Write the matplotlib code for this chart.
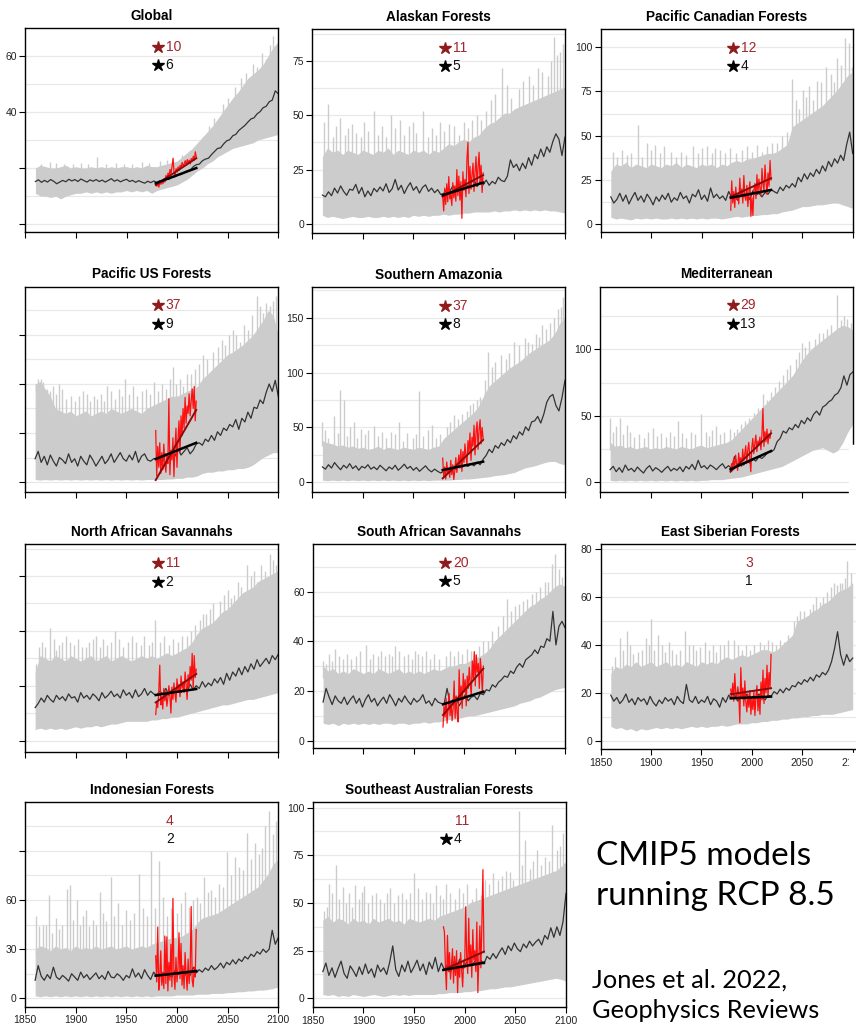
import numpy as np
import matplotlib.pyplot as plt
from matplotlib.patches import Rectangle

plt.rcParams['font.family'] = ['Liberation Sans', 'DejaVu Sans']

band_years = np.arange(1860, 2101, 5)
mean_years = np.arange(1860, 2101, 3)
obs_years = np.arange(1979, 2020)
trend_years = [1979, 2019]

# ---------------- Global
glob_lo = [11, 10, 10, 9.5, 10, 9, 10, 10.5, 11, 11, 11.5, 11, 11.5, 11, 11.5, 11, 11.5, 11.5, 12, 11.5, 12, 11.5, 12, 11, 12,
           12.5, 13, 13.5, 14, 15, 16, 17.5, 19, 20, 21.5, 22.5, 24, 25, 26, 27, 27.5, 28, 28.5, 29, 30, 30.5, 31, 31.5, 32]
glob_hi = [20, 21, 20.5, 20, 20, 20.5, 21, 20, 20.5, 20, 20, 20.5, 20, 20.5, 20, 20.5, 20, 20.5, 20.5, 20, 20.5, 20, 21, 20.5,
           20.5, 21, 21.5, 22, 22.5, 24, 25.5, 27, 29, 31, 33, 35, 37.5, 40, 42.5, 45, 47, 49.5, 52, 53.5, 55, 57, 60, 63, 65]
glob_spk_yr = [1874, 1921, 1965, 1983, 2036, 2057, 2068, 2079, 2088, 2095, 2098,
               1866, 1880, 1888, 1897, 1905, 1912, 1930, 1940, 1948, 1955, 1972, 1990, 2005, 2012, 2026, 2032, 2045,
               2050, 2063, 2075, 2084, 2092]
glob_spk_hi = [22, 24, 22, 22.5, 38, 49, 54, 56, 59, 67, 64,
               21.5, 21.8, 21.5, 21.5, 21.8, 21.5, 21.5, 21.8, 21.5, 21.5, 21.8, 23, 24.5, 26, 31, 35, 43,
               45, 52, 57, 61, 64]
glob_mean = [15.2, 15.8, 14.9, 15.6, 15.0, 15.9, 15.3, 14.4, 15.0, 15.6,
             15.1, 16.0, 15.4, 15.9, 15.2, 16.1, 15.5, 15.0, 15.8, 15.3,
             15.9, 15.2, 15.7, 15.0, 15.6, 16.2, 15.3, 15.8, 15.1, 15.6,
             16.0, 15.2, 15.6, 14.9, 15.5, 15.0, 14.6, 15.3, 14.8, 15.4,
             14.8, 15.5, 15.3, 16.1, 16.0, 16.8, 16.9, 17.6, 17.7, 18.3,
             19.0, 19.3, 20.5, 21.2, 21.4, 22.6, 23.2, 23.5, 24.8, 25.9,
             27.0, 27.2, 28.6, 29.7, 30.1, 31.5, 32.0, 33.4, 34.3, 35.2,
             36.4, 37.5, 37.9, 39.3, 40.1, 41.5, 42.0, 43.6, 44.2, 47.5, 46.5]
glob_obs = [14.0, 13.5, 14.8, 13.2, 15.0, 14.2, 15.6, 14.4, 16.2, 15.0, 17.4, 16.0, 18.2, 17.0, 19.5, 18.0, 20.5, 23.5, 18.5,
            17.2, 19.8, 18.6, 20.4, 19.2, 21.0, 20.2, 22.0, 20.8, 21.4, 22.6, 21.2, 23.0, 21.8, 22.8, 21.5, 23.4, 22.6, 24.2,
            22.8, 25.8, 23.8]
glob_tr_obs = [14.0, 23.5]
glob_tr_mod = [14.6, 20.0]

# ---------------- Alaskan Forests
ak_lo = [4, 3, 3.5, 3, 2.5, 3, 3.5, 3, 3, 3.5, 3, 3, 3.5, 3, 3.5, 3, 3.5, 3, 4, 3.5, 4, 3.5, 4, 4, 4.5, 4, 4.5, 4.5, 5, 5,
         5.5, 5.5, 5.5, 5.5, 6, 5.5, 6, 6, 6.5, 6, 6.5, 6, 6.5, 6, 6.5, 6, 6, 5.5, 5]
ak_hi = [31, 35, 33, 34, 32, 34, 33, 32, 34, 33, 32, 34, 33, 35, 32, 34, 33, 32, 34, 33, 34, 32, 34, 33, 35, 37, 36, 38, 39,
         38, 40, 41, 44, 46, 47, 49, 51, 51, 53, 54, 55, 56, 57, 58, 59, 60, 61, 62, 63]
ak_spk_yr = [1866, 1877, 1889, 1905, 1911, 1928, 1946, 1960, 1985, 2008, 2027, 2038, 2054, 2064, 2073, 2083, 2089, 2095, 2098,
             1862, 1870, 1873, 1882, 1885, 1893, 1898, 1901, 1915, 1919, 1923, 1932, 1937, 1941, 1950, 1953, 1964, 1968,
             1972, 1976, 1980, 1990, 1995, 2000, 2004, 2013, 2017, 2022, 2031, 2043, 2047, 2058, 2068, 2077, 2086, 2092]
ak_spk_hi = [55, 49, 46, 43, 52, 50, 45, 52, 46, 48, 57, 72, 62, 68, 72, 68, 86, 79, 83,
             47, 40, 45, 41, 44, 42, 40, 47, 41, 45, 40, 44, 48, 41, 47, 42, 40, 44,
             41, 47, 43, 45, 41, 47, 44, 50, 48, 52, 60, 64, 58, 66, 64, 70, 75, 78]
ak_mean = [13.3, 12.5, 14.8, 13.0, 16.5, 14.2, 17.5, 15.0, 13.2, 16.0,
           15.5, 18.2, 14.0, 16.8, 12.5, 15.2, 13.0, 16.4, 14.8, 17.0,
           15.2, 18.5, 14.5, 16.2, 20.5, 15.6, 17.8, 14.0, 16.9, 19.0,
           15.5, 17.2, 14.2, 16.8, 18.0, 15.0, 16.5, 14.4, 15.8, 13.6,
           14.0, 16.0, 15.0, 17.5, 15.5, 18.4, 16.2, 19.2, 17.0, 18.8,
           20.5, 17.2, 19.5, 18.0, 20.2, 17.8, 19.6, 18.5, 21.5, 20.0,
           19.5, 22.0, 29.5, 26.0, 27.5, 24.5, 28.0, 25.5, 30.5, 27.0,
           32.0, 30.0, 34.5, 31.0, 35.5, 33.0, 38.0, 41.5, 39.0, 31.5, 40.0]
ak_obs = [12.6, 6.0, 16.5, 9.0, 18.5, 10.2, 21.8, 11.5, 14.0, 8.5, 19.0, 12.0, 17.5, 10.5, 25.0, 13.0, 22.0, 11.0, 19.5, 2.6,
          24.0, 15.5, 20.5, 12.5, 30.0, 37.6, 14.0, 26.5, 16.0, 22.5, 28.0, 15.0, 24.0, 31.0, 17.5, 26.0, 33.0, 19.0, 27.0,
          14.5, 23.5]
ak_tr_obs = [12.6, 22.5]
ak_tr_mod = [13.3, 19.0]

# ---------------- Pacific Canadian Forests
pc_lo = [4, 3, 3.5, 3, 2.5, 3.5, 3, 3.5, 3, 3.5, 3, 3, 3.5, 3, 3.5, 3, 3.5, 3, 3.5, 3, 3.5, 3.5, 3, 3.5, 4, 4.5, 4, 4.5, 5,
         5, 5.5, 5.5, 6, 6, 7, 7.5, 8, 9, 10, 10, 10.5, 11, 11, 11.5, 12, 12, 11, 10, 9]
pc_hi = [30, 34, 33, 35, 32, 34, 33, 32, 34, 33, 32, 34, 33, 35, 32, 34, 33, 32, 34, 33, 34, 32, 34, 33, 35, 36, 35, 37, 37,
         38, 39, 40, 40, 41, 43, 45, 55, 57, 59, 61, 63, 65, 67, 70, 73, 76, 80, 84, 86]
pc_spk_yr = [1887, 1896, 1904, 1920, 1942, 1955, 1968, 2010, 2020, 2040, 2051, 2057, 2065, 2074, 2084, 2092, 2096, 2099,
             1862, 1866, 1871, 1876, 1880, 1891, 1900, 1909, 1913, 1925, 1930, 1935, 1947, 1950, 1960, 1963, 1973, 1978,
             1984, 1990, 1995, 2000, 2005, 2015, 2025, 2030, 2035, 2044, 2047, 2054, 2061, 2069, 2078, 2081, 2088]
pc_spk_hi = [56, 46, 45, 41, 44, 44, 42, 41, 46, 82, 76, 78, 81, 89, 94, 105, 102, 89,
             41, 38, 42, 39, 40, 38, 42, 40, 44, 38, 41, 39, 40, 43, 40, 43, 40, 43,
             40, 42, 44, 41, 45, 44, 46, 50, 52, 70, 65, 72, 70, 80, 85, 80, 90]
pc_mean = [15.5, 12.0, 14.0, 17.5, 13.0, 16.5, 11.5, 15.0, 18.0, 13.5,
           16.0, 12.5, 17.0, 14.5, 11.0, 15.5, 13.0, 16.5, 14.0, 17.5,
           12.5, 15.0, 13.5, 18.0, 14.5, 16.0, 12.0, 17.0, 15.5, 19.5,
           14.0, 16.5, 13.0, 20.5, 15.0, 17.0, 14.5, 16.0, 13.5, 18.5,
           15.0, 16.5, 13.5, 18.0, 15.5, 17.0, 14.0, 19.0, 16.5, 17.5,
           15.5, 18.0, 17.0, 19.5, 18.5, 17.5, 21.0, 19.0, 22.0, 20.5,
           23.0, 21.0, 26.5, 24.0, 28.5, 25.5, 29.0, 27.0, 31.0, 28.5,
           33.0, 30.0, 35.5, 32.5, 37.0, 34.5, 39.0, 36.0, 45.0, 52.0, 40.0]
pc_obs = [8.0, 24.5, 12.0, 18.5, 9.5, 21.0, 14.0, 17.0, 11.5, 26.0, 15.5, 20.0, 12.0, 27.5, 16.0, 13.5, 22.0, 10.0, 18.0,
          24.0, 4.5, 15.0, 5.0, 19.5, 23.0, 14.5, 28.0, 18.0, 25.5, 20.0, 16.0, 31.5, 22.5, 19.0, 33.5, 24.0, 17.0, 29.0,
          21.5, 36.0, 25.0]
pc_tr_obs = [15.6, 26.0]
pc_tr_mod = [15.0, 19.4]

# ---------------- Pacific US Forests
pus_lo = [1, 0.8, 1, 0.8, 1, 0.8, 1, 0.8, 1, 0.8, 1, 0.8, 1, 0.8, 1, 0.8, 1, 0.8, 1, 0.8, 1, 0.8, 1, 1, 1, 1, 1.2, 1.2,
          1.5, 1.5, 2, 2, 2.5, 3.5, 4, 4, 4.5, 4.5, 5, 5, 5.5, 5.5, 6, 7, 8.5, 10, 11, 12, 12]
pus_hi = [40, 41, 38, 35, 30, 29, 28, 29, 27, 28, 29, 27, 28, 29, 28, 30, 29, 28, 29, 30, 29, 28, 30, 31, 32, 33, 34, 35,
          35, 36, 37, 38, 39, 42, 44, 46, 48, 50, 52, 53, 54.5, 56, 58, 60, 63, 66, 70, 68, 60]
pus_spk_yr = [1863, 1868, 1878, 1884, 1895, 1907, 1921, 1931, 1949, 1965, 1977, 1996, 2010, 2026, 2036, 2051, 2062, 2070,
              2079, 2085, 2092, 2098,
              1861, 1866, 1872, 1875, 1881, 1887, 1890, 1899, 1903, 1911, 1914, 1918, 1925, 1928, 1935, 1939, 1943,
              1946, 1953, 1957, 1961, 1969, 1973, 1981, 1985, 1989, 1993, 1999, 2003, 2006, 2014, 2018, 2022, 2030,
              2040, 2044, 2047, 2055, 2058, 2066, 2074, 2082, 2088, 2095]
pus_spk_hi = [42, 41, 39, 40, 35, 37, 34, 39, 42, 37, 41, 47, 44, 52, 53, 60, 57, 62, 76, 69, 72, 76,
              40, 42, 38, 37, 36, 38, 34, 33, 35, 36, 33, 35, 36, 33, 37, 34, 38,
              35, 36, 39, 35, 38, 36, 37, 40, 38, 42, 40, 42, 39, 44, 46, 48, 50,
              55, 58, 56, 62, 60, 64, 68, 72, 73, 74]
pus_mean = [9.5, 12.5, 8.0, 10.5, 7.0, 11.0, 8.5, 6.5, 10.0, 9.0,
            7.5, 11.5, 8.0, 9.5, 6.5, 10.5, 8.5, 7.0, 11.0, 9.0,
            6.5, 8.5, 10.5, 7.5, 9.0, 11.5, 8.0, 10.0, 12.0, 9.5,
            8.5, 11.0, 9.0, 12.5, 8.0, 10.5, 11.5, 9.0, 8.5, 9.5,
            9.5, 10.5, 8.5, 11.5, 10.0, 12.0, 10.5, 13.5, 11.0, 12.5,
            14.0, 11.5, 13.0, 15.5, 16.0, 15.0, 17.5, 16.5, 19.0, 17.0,
            20.5, 19.0, 22.0, 21.0, 23.5, 22.5, 25.5, 21.5, 26.0, 24.5,
            28.5, 26.0, 30.5, 30.0, 33.5, 32.0, 36.5, 40.0, 37.0, 41.5, 35.0]
pus_obs = [21.0, 2.5, 14.5, 6.0, 16.0, 3.5, 12.0, 5.0, 15.5, 8.0, 4.0, 11.0, 7.5, 34.0, 3.0, 13.0, 9.0, 18.0, 2.2, 14.0,
           22.0, 6.0, 17.5, 25.0, 12.0, 27.0, 19.0, 30.0, 22.0, 34.5, 24.0, 31.0, 28.0, 36.0, 27.0, 33.0, 38.0, 30.0, 39.0,
           25.0, 33.0]
pus_tr_obs = [0.8, 29.4]
pus_tr_mod = [9.4, 16.0]

# ---------------- Southern Amazonia
sam_lo = [2, 1.5, 2, 1.5, 2, 1.5, 2, 1.5, 2, 1.5, 2, 1.5, 2, 1.5, 2, 1.5, 2, 1.5, 2, 1.5, 2, 1.5, 2, 2, 2, 2, 2.5, 2.5,
          3, 3, 3.5, 4, 4.5, 5, 6, 6.5, 7, 8, 9, 11, 13, 14, 15, 16.5, 18, 19, 19, 17, 16]
sam_hi = [38, 36, 35, 33, 34, 32, 33, 31, 32, 30, 31, 33, 30, 32, 31, 30, 32, 31, 30, 32, 31, 30, 32, 33, 40, 44, 48, 52,
          56, 60, 64, 70, 80, 88, 92, 96, 100, 104, 107, 110, 114, 118, 121, 124, 127, 130, 136, 145, 150]
sam_spk_yr = [1860, 1871, 1877, 1881, 1891, 1898, 1911, 1928, 1936, 1956, 1968, 1990, 2009, 2021, 2024, 2037, 2050, 2060,
              2067, 2077, 2085, 2093, 2098,
              1863, 1866, 1875, 1884, 1887, 1894, 1902, 1905, 1915, 1919, 1923, 1932, 1940, 1944, 1950, 1953, 1960,
              1964, 1972, 1976, 1983, 1986, 1994, 1998, 2003, 2006, 2013, 2016, 2028, 2031, 2042, 2045, 2054, 2063,
              2071, 2074, 2081, 2089, 2096]
sam_spk_hi = [55, 60, 84, 75, 55, 49, 51, 46, 55, 83, 52, 61, 72, 93, 119, 116, 128, 131, 126, 143, 145, 158, 169,
              48, 40, 45, 42, 50, 40, 44, 48, 42, 46, 40, 44, 38, 45, 40, 44, 42,
              48, 40, 44, 50, 55, 58, 62, 65, 70, 75, 78, 105, 110, 112, 118, 125, 128,
              135, 132, 140, 150, 160]
sam_mean = [14.0, 12.0, 16.0, 13.0, 18.0, 14.5, 11.5, 15.5, 13.0, 17.0,
            12.5, 15.0, 11.0, 14.5, 13.0, 16.0, 12.0, 14.0, 11.5, 15.5,
            13.0, 10.5, 14.0, 12.0, 15.5, 11.0, 13.5, 16.5, 12.5, 14.5,
            11.0, 13.5, 10.0, 12.5, 15.0, 11.5, 9.5, 12.0, 10.0, 8.5,
            10.0, 12.5, 11.0, 14.0, 12.0, 15.5, 13.5, 16.0, 14.5, 17.0,
            15.0, 18.5, 16.0, 21.0, 24.5, 30.0, 27.0, 33.5, 31.0, 36.0,
            33.5, 39.0, 36.0, 42.5, 39.5, 46.0, 43.0, 50.5, 47.0, 55.0,
            56.0, 60.0, 54.0, 62.0, 73.0, 78.0, 80.0, 70.0, 65.0, 77.0, 93.0]
sam_obs = [22.0, 5.0, 14.0, 3.0, 18.5, 8.0, 12.0, 4.5, 20.0, 7.0, 16.0, 2.5, 11.0, 22.5, 9.0, 17.0, 25.0, 13.0, 30.0,
           10.0, 28.0, 18.0, 35.0, 24.0, 16.0, 38.0, 27.0, 45.0, 20.0, 41.0, 33.0, 52.0, 25.0, 46.0, 55.0, 30.0, 48.0,
           57.0, 35.0, 50.0, 40.0]
sam_tr_obs = [3.6, 38.6]
sam_tr_mod = [11.2, 18.8]

# ---------------- Mediterranean
med_lo = [1.5, 1, 1.5, 1, 1.5, 1, 1.5, 1, 1.5, 1, 1.5, 1, 1.5, 1, 1.5, 1, 1.5, 1, 1.5, 1.5, 2, 2, 2, 2.5, 3, 3.5, 4, 5,
          6, 7, 8, 9, 10, 11, 12, 14, 16, 18, 20, 22, 24, 25, 26, 24, 22, 24, 30, 38, 44]
med_hi = [30, 27, 28, 26, 27, 25, 26, 27, 25, 26, 25, 27, 26, 25, 27, 26, 25, 27, 28, 26, 27, 28, 29, 30, 32, 36, 40, 44,
          48, 52, 56, 60, 64, 68, 72, 76, 80, 86, 92, 97, 101, 104, 107, 110, 113, 116, 118, 117, 114]
med_spk_yr = [1860, 1870, 1877, 1902, 1927, 1950, 1965, 1985, 2011, 2031, 2044, 2050, 2066, 2081, 2084, 2091, 2094,
              1863, 1866, 1873, 1880, 1884, 1889, 1893, 1897, 1906, 1910, 1915, 1919, 1923, 1931, 1935, 1940, 1944,
              1955, 1958, 1961, 1969, 1973, 1978, 1982, 1989, 1993, 1997, 2002, 2006, 2015, 2019, 2023, 2027, 2035,
              2038, 2047, 2053, 2057, 2062, 2070, 2074, 2078, 2088, 2098]
med_spk_hi = [48, 48, 43, 41, 46, 51, 42, 40, 66, 81, 93, 105, 112, 103, 141, 125, 123,
              38, 42, 36, 38, 34, 36, 33, 38, 35, 37, 34, 38, 35, 37, 33, 38, 36,
              38, 35, 39, 36, 38, 40, 38, 44, 46, 48, 52, 56, 62, 68, 72, 76, 85,
              88, 98, 102, 106, 108, 112, 115, 118, 122, 120]
med_mean = [9.5, 12.0, 8.0, 11.0, 7.5, 13.0, 9.0, 10.5, 8.0, 11.5,
            9.0, 7.0, 10.5, 12.5, 8.5, 11.0, 9.5, 7.5, 10.0, 12.0,
            8.5, 10.5, 9.0, 11.5, 8.0, 12.0, 10.0, 13.5, 9.5, 16.5,
            11.0, 12.5, 10.0, 13.0, 11.5, 9.5, 12.0, 14.0, 10.5, 12.5,
            10.5, 19.5, 12.0, 14.5, 13.0, 16.0, 14.5, 17.5, 16.0, 19.0,
            18.0, 20.0, 22.5, 23.0, 24.5, 30.5, 33.0, 38.5, 37.0, 41.0,
            39.5, 43.5, 41.0, 46.5, 44.0, 48.5, 46.0, 51.0, 53.5, 50.5,
            56.5, 58.0, 60.5, 62.0, 65.5, 67.0, 71.0, 80.0, 73.0, 81.0, 83.0]
med_obs = [8.0, 14.0, 10.5, 17.5, 11.0, 20.5, 13.0, 9.0, 22.0, 15.0, 18.5, 12.0, 25.0, 16.0, 21.0, 27.5, 14.0, 24.0,
           30.0, 19.0, 8.0, 26.0, 33.0, 21.5, 29.0, 35.5, 23.0, 31.0, 28.0, 34.0, 24.5, 36.0, 55.5, 27.0, 38.0, 30.5,
           40.0, 29.0, 36.5, 33.0, 39.0]
med_tr_obs = [8.0, 36.8]
med_tr_mod = [9.8, 23.5]

# ---------------- North African Savannahs
nas_lo = [4, 4.5, 4, 4.5, 4, 4.5, 4, 4.5, 5, 4.5, 5, 5, 5.5, 5, 5.5, 6, 6, 6.5, 7, 7, 7, 7, 7, 7.5, 7.5, 8, 8, 8.5,
          8.5, 9, 9.5, 10, 10.5, 11, 11.5, 12, 12.5, 13, 13, 13.5, 14, 14.5, 15, 15, 15.5, 16, 16.5, 17, 17.5]
nas_hi = [25, 31, 30, 29, 31, 30, 29, 31, 30, 29, 30, 31, 29, 30, 31, 29, 30, 31, 30, 29, 30, 31, 30, 31, 30, 31, 32,
          31, 32, 33, 34, 36, 39, 41, 42, 43, 45, 47, 48, 50, 52, 54, 55, 56, 58, 59, 60, 61, 62]
nas_spk_yr = [1864, 1875, 1884, 1894, 1906, 1917, 1931, 1939, 1960, 1972, 1978, 2010, 2029, 2042, 2056, 2069, 2079,
              2087, 2092, 2098,
              1861, 1867, 1870, 1879, 1881, 1887, 1890, 1898, 1902, 1910, 1913, 1920, 1924, 1927, 1935, 1943, 1947,
              1952, 1956, 1964, 1967, 1975, 1983, 1987, 1992, 1996, 2001, 2005, 2014, 2018, 2023, 2026, 2033, 2036,
              2046, 2050, 2053, 2060, 2063, 2073, 2076, 2083, 2095]
nas_spk_hi = [34, 41, 35, 36, 34, 37, 35, 40, 36, 35, 44, 38, 46, 51, 53, 64, 58, 62, 68, 64,
              28, 36, 34, 37, 33, 36, 38, 35, 37, 34, 36, 38, 34, 37, 36, 37, 34,
              36, 38, 35, 38, 36, 36, 38, 35, 37, 36, 38, 40, 42, 44, 46, 48, 50,
              53, 55, 52, 58, 56, 60, 62, 64, 66]
nas_mean = [12.0, 13.5, 15.5, 14.0, 16.5, 15.0, 14.0, 16.5, 15.0, 16.0,
            14.5, 17.0, 15.5, 16.0, 14.0, 17.5, 15.5, 16.5, 15.0, 17.0,
            16.0, 14.5, 17.5, 15.5, 16.5, 18.0, 16.0, 17.0, 15.5, 18.5,
            16.5, 17.5, 15.5, 18.5, 16.0, 17.0, 19.0, 16.5, 18.0, 17.0,
            16.5, 18.0, 17.0, 19.0, 16.5, 18.5, 17.5, 20.0, 17.5, 19.0,
            18.0, 20.5, 18.5, 20.0, 19.0, 21.5, 19.5, 21.0, 20.0, 22.5,
            21.0, 23.0, 20.5, 24.5, 22.0, 25.0, 23.5, 26.5, 24.0, 27.0,
            25.0, 28.0, 26.0, 29.5, 27.0, 28.5, 30.0, 28.0, 31.0, 29.5, 31.5]
nas_obs = [9.5, 14.0, 12.0, 17.5, 27.5, 13.0, 16.0, 11.5, 19.0, 14.5, 18.0, 12.5, 15.5, 20.0, 16.5, 10.0, 19.5, 15.0,
           21.0, 17.0, 14.0, 22.5, 18.0, 20.5, 16.0, 23.5, 19.0, 21.5, 17.5, 25.0, 20.5, 15.0, 24.0, 19.5, 27.0, 22.0,
           31.8, 18.5, 31.0, 23.0, 26.0]
nas_tr_obs = [13.9, 24.3]
nas_tr_mod = [16.6, 18.8]

# ---------------- South African Savannahs
sas_lo = [7, 6.5, 7, 6, 7, 6.5, 7, 6.5, 7, 6.5, 7, 6.5, 7, 7, 6.5, 7, 7, 6.5, 7, 7, 7.5, 7, 7.5, 7.5, 8, 8.5, 8.5, 9,
          9.5, 10, 10, 10.5, 11, 11.5, 12, 12.5, 13, 13.5, 14, 15, 15.5, 16, 17, 17.5, 18.5, 19.5, 20.5, 21, 21.5]
sas_hi = [30, 28, 29, 27, 28, 27, 29, 28, 27, 28, 27, 29, 28, 27, 28, 29, 27, 28, 27, 28, 27, 28, 29, 28, 29, 30, 30,
          31, 31, 32, 33, 34, 35, 37, 40, 42, 44, 46, 48, 50, 52, 54, 55, 57, 58, 60, 62, 63, 62]
sas_spk_yr = [1860, 1872, 1888, 1903, 1921, 1931, 1940, 1954, 1994, 2011, 2024, 2034, 2042, 2054, 2067, 2080, 2087,
              2090, 2094,
              1863, 1866, 1869, 1876, 1880, 1884, 1893, 1897, 1907, 1910, 1914, 1917, 1925, 1928, 1935, 1944, 1948,
              1951, 1958, 1962, 1966, 1970, 1975, 1982, 1986, 1990, 1998, 2003, 2007, 2015, 2019, 2028, 2038, 2046,
              2050, 2058, 2062, 2071, 2075, 2083, 2097]
sas_spk_hi = [32, 37, 33, 38.5, 34, 38, 34, 35, 36, 35, 40, 46, 57, 55, 59, 64, 71, 75, 69,
              31, 35, 32, 34, 33, 35, 34, 36, 33, 35, 34, 36, 35, 34, 36, 35, 33,
              36, 34, 36, 33, 35, 33, 34, 36, 34, 35, 37, 36, 38, 40, 44, 50, 52,
              54, 56, 57, 60, 62, 64, 66]
sas_mean = [15.5, 21.0, 17.5, 14.5, 18.0, 16.0, 15.0, 17.5, 14.5, 16.5,
            18.0, 15.0, 17.0, 13.5, 16.5, 18.5, 15.5, 17.0, 14.0, 16.0,
            17.5, 15.0, 18.5, 16.5, 14.0, 17.0, 15.5, 18.0, 16.0, 14.5,
            17.0, 15.5, 16.5, 18.5, 15.0, 16.0, 14.0, 17.0, 15.5, 15.0,
            14.5, 21.0, 15.0, 16.5, 17.5, 14.0, 16.0, 18.5, 16.0, 17.5,
            18.0, 16.5, 19.0, 18.5, 20.5, 20.0, 22.5, 21.5, 23.5, 24.5,
            26.0, 25.5, 28.0, 27.0, 29.5, 31.0, 29.5, 32.5, 33.5, 34.5,
            36.5, 35.0, 38.0, 37.5, 41.0, 40.0, 52.0, 38.5, 46.0, 48.0, 45.5]
sas_obs = [5.5, 14.0, 9.5, 17.0, 7.0, 12.5, 19.0, 10.0, 15.5, 8.0, 13.0, 24.0, 9.0, 18.0, 11.0, 7.5, 28.5, 16.0, 22.0,
           13.0, 27.0, 19.5, 24.5, 14.0, 26.0, 21.0, 29.5, 23.0, 18.0, 32.0, 25.0, 35.8, 22.0, 34.5, 27.5, 31.0, 21.0,
           33.0, 28.0, 19.0, 30.0]
sas_tr_obs = [10.3, 29.0]
sas_tr_mod = [14.6, 19.7]

# ---------------- East Siberian Forests
es_lo = [6, 5, 5.5, 4.5, 5, 4, 5, 4.5, 5, 5.5, 5, 5.5, 5, 5.5, 5, 5.5, 6, 5.5, 6, 5.5, 6, 6, 6.5, 6, 6.5, 7, 7, 7, 7.5,
         7.5, 8, 8, 8.5, 8.5, 9, 9, 9.5, 9.5, 10, 10, 10.5, 10.5, 11, 11, 11, 11.5, 12, 12.5, 13]
es_hi = [28, 31, 30, 32, 31, 33, 31, 32, 33, 31, 32, 33, 31, 32, 31, 33, 32, 31, 33, 32, 33, 32, 34, 35, 34, 35, 36, 35,
         36, 37, 38, 38, 37, 38, 40, 42, 44, 50, 51, 52, 54, 55, 57, 58, 60, 62, 63, 64, 66]
es_spk_yr = [1869, 1876, 1887, 1895, 1900, 1907, 1918, 1934, 1942, 1953, 1968, 1982, 2008, 2020, 2048, 2058, 2064, 2081,
             2084, 2089, 2094,
             1861, 1864, 1872, 1879, 1882, 1891, 1898, 1903, 1911, 1914, 1921, 1925, 1929, 1938, 1945, 1949, 1957,
             1961, 1964, 1972, 1976, 1986, 1990, 1994, 1998, 2002, 2012, 2016, 2024, 2028, 2032, 2036, 2042, 2045,
             2052, 2055, 2061, 2068, 2071, 2075, 2078, 2087, 2092, 2098]
es_spk_hi = [43, 46, 37, 43, 51, 44, 41, 46, 40, 41, 40, 42, 41, 41, 54, 55, 60, 66, 65, 66, 75,
             31, 35, 38, 40, 36, 38, 40, 38, 40, 37, 38, 36, 38, 40, 38, 39, 38,
             40, 37, 40, 42, 40, 38, 40, 38, 40, 40, 42, 40, 42, 41, 44, 50, 52,
             54, 52, 57, 58, 60, 62, 64, 66, 68, 70]
es_mean = [19.0, 16.5, 18.0, 15.5, 17.0, 19.5, 16.0, 17.5, 15.0, 18.0,
           16.5, 17.5, 15.0, 18.5, 16.0, 14.5, 17.0, 15.5, 18.0, 16.5,
           17.5, 15.0, 18.5, 16.5, 15.5, 23.5, 17.0, 16.0, 18.5, 15.5,
           17.0, 16.0, 18.5, 15.0, 17.5, 16.5, 14.0, 18.0, 16.0, 19.0,
           17.5, 19.0, 16.5, 18.5, 17.0, 19.5, 16.5, 18.5, 17.5, 19.5,
           18.0, 17.0, 19.0, 18.5, 20.5, 19.5, 21.5, 20.0, 22.0, 21.0,
           23.0, 22.5, 24.5, 23.5, 25.5, 24.5, 26.5, 25.0, 27.5, 26.5,
           28.5, 27.5, 29.5, 33.0, 38.5, 45.5, 36.0, 31.5, 36.0, 33.0, 34.5]
es_obs = [21.5, 18.0, 24.0, 16.5, 28.0, 20.0, 17.0, 22.5, 19.0, 7.5, 30.5, 18.0, 22.0, 14.5, 25.0, 16.0, 12.0, 19.5,
          14.0, 21.0, 11.0, 17.5, 13.0, 20.5, 10.5, 18.5, 23.0, 12.5, 19.0, 11.0, 24.5, 17.0, 29.5, 15.5, 26.0, 20.0,
          31.5, 18.5, 28.5, 22.0, 36.0]
es_tr_obs = [19.4, 21.9]
es_tr_mod = [17.7, 18.4]

# ---------------- Indonesian Forests
ind_lo = [1.5, 1, 1.5, 1, 1.5, 1, 1.5, 1, 1.5, 1, 1.5, 1, 1.5, 1, 1.5, 1, 1.5, 1, 1.5, 1, 1.5, 1, 1.5, 1, 1.5, 1.5,
          1.5, 1.5, 2, 2, 2, 2, 2.5, 2.5, 2.5, 3, 3, 3, 3.5, 3.5, 4, 4, 4.5, 4.5, 5, 5, 5.5, 6, 7]
ind_hi = [30, 32, 31, 29, 32, 30, 31, 29, 32, 30, 31, 30, 32, 30, 31, 32, 30, 31, 32, 30, 31, 32, 31, 33, 34, 35, 36,
          37, 37, 38, 40, 42, 46, 49, 50, 51, 52, 54, 56, 58, 60, 62, 64, 66, 68, 72, 76, 82, 85]
ind_spk_yr = [1861, 1868, 1874, 1881, 1891, 1894, 1901, 1910, 1924, 1935, 1942, 1963, 1974, 1982, 1986, 2008, 2027,
              2034, 2049, 2057, 2069, 2077, 2087, 2091, 2098,
              1864, 1871, 1877, 1884, 1887, 1897, 1904, 1907, 1913, 1917, 1920, 1927, 1930, 1938, 1946, 1950, 1954,
              1958, 1966, 1970, 1978, 1990, 1994, 2000, 2004, 2012, 2016, 2020, 2023, 2031, 2038, 2041, 2045, 2053,
              2061, 2065, 2073, 2081, 2084, 2095]
ind_spk_hi = [50, 45, 63, 49, 67, 69, 60, 54, 65, 74, 58, 76, 90, 84, 62, 65, 74, 66, 89, 86, 101, 95, 105, 114, 108,
              44, 45, 40, 42, 45, 48, 45, 50, 44, 48, 45, 52, 47, 50, 45, 54, 48,
              52, 55, 50, 55, 50, 55, 52, 58, 56, 60, 62, 58, 65, 62, 70, 68, 75,
              80, 78, 85, 88, 92, 100]
ind_mean = [11.0, 20.0, 13.5, 11.0, 14.5, 12.0, 19.0, 13.0, 11.5, 14.0,
            12.5, 10.5, 15.0, 13.0, 11.0, 16.0, 12.5, 14.5, 11.5, 13.5,
            15.5, 12.0, 14.0, 11.5, 16.5, 13.0, 12.5, 15.0, 13.5, 11.0,
            14.0, 12.5, 18.0, 13.0, 15.5, 12.0, 17.5, 14.0, 11.5, 16.0,
            13.5, 15.0, 12.5, 16.5, 14.0, 13.0, 17.0, 14.5, 16.0, 13.5,
            15.5, 14.0, 19.0, 15.5, 17.5, 16.0, 18.5, 17.0, 20.0, 17.5,
            19.0, 21.5, 18.5, 22.0, 20.5, 23.5, 21.0, 24.0, 22.5, 25.5,
            24.0, 27.0, 25.5, 28.5, 27.0, 30.0, 28.0, 30.0, 41.5, 33.0, 37.0]
ind_obs = [26.0, 10.0, 43.5, 5.0, 12.0, 29.0, 8.0, 16.0, 6.0, 38.0, 9.0, 37.5, 4.5, 22.0, 11.0, 33.0, 7.0, 61.0, 14.0,
           5.5, 25.0, 10.0, 18.0, 40.0, 12.0, 33.5, 8.0, 20.0, 6.0, 28.0, 15.0, 5.0, 24.0, 9.0, 17.0, 56.0, 11.0, 7.0,
           19.0, 13.0, 42.0]
ind_tr_obs = [13.8, 16.3]
ind_tr_mod = [13.8, 16.7]

# ---------------- Southeast Australian Forests
sea_lo = [2, 1.5, 2, 1, 1.5, 1, 2, 1.5, 1, 1.5, 2, 1.5, 1, 1.5, 2, 1.5, 2, 1.5, 2, 2, 2, 2, 2, 2.5, 2.5, 3, 3, 3, 3.5,
          3.5, 4, 4, 4.5, 5, 5, 5.5, 6, 6, 6.5, 7, 7.5, 8, 8.5, 9, 9.5, 10, 10.5, 10, 9]
sea_hi = [41, 43, 40, 42, 41, 39, 42, 40, 41, 39, 42, 40, 41, 42, 40, 41, 39, 42, 41, 40, 41, 42, 41, 43, 44, 45, 46, 47,
          48, 50, 51, 52, 53, 54, 55, 56, 57, 58, 59, 60, 61, 62, 63, 64, 65, 66, 67, 69, 72]
sea_spk_yr = [1861, 1866, 1873, 1880, 1892, 1901, 1912, 1926, 1938, 1950, 1962, 1972, 1982, 2007, 2016, 2028, 2041,
              2054, 2060, 2071, 2086, 2091, 2097,
              1864, 1869, 1876, 1883, 1886, 1889, 1896, 1899, 1905, 1909, 1916, 1920, 1923, 1930, 1934, 1942, 1946,
              1954, 1958, 1966, 1969, 1976, 1979, 1986, 1990, 1994, 1998, 2002, 2011, 2020, 2024, 2033, 2037, 2045,
              2048, 2057, 2064, 2067, 2075, 2079, 2083, 2094]
sea_spk_hi = [46, 60, 70, 58.5, 59.5, 59, 55, 58, 55, 65.5, 56, 59.5, 60, 52, 54, 65.5, 67, 98, 83, 78, 91, 78, 86.5,
              48, 55, 52, 50, 55, 48, 52, 56, 50, 54, 52, 50, 55, 50, 54, 52, 55,
              58, 52, 55, 50, 54, 52, 55, 52, 58, 55, 60, 58, 62, 60, 62, 64, 66,
              62, 70, 68, 72, 70, 74, 72, 80]
sea_mean = [14.0, 18.5, 12.0, 16.0, 11.0, 15.5, 19.5, 13.0, 10.5, 17.0,
            14.5, 11.5, 16.5, 12.5, 18.0, 13.0, 15.5, 11.0, 17.5, 14.0,
            16.0, 12.5, 19.0, 27.5, 15.0, 11.5, 17.5, 14.0, 19.5, 13.5,
            16.5, 20.0, 14.5, 18.0, 12.5, 19.0, 15.5, 21.5, 14.0, 18.5,
            15.0, 17.5, 13.5, 19.0, 16.0, 20.5, 15.5, 18.0, 21.0, 17.0,
            19.5, 16.5, 20.0, 18.0, 22.0, 20.5, 23.5, 21.0, 24.0, 26.5,
            23.0, 27.5, 25.0, 29.0, 26.0, 24.5, 28.5, 26.5, 30.0, 27.5,
            29.5, 31.0, 28.0, 33.0, 31.0, 37.0, 32.0, 37.5, 33.0, 40.0, 55.0]
sea_obs = [37.5, 35.0, 16.0, 4.5, 33.0, 14.0, 24.0, 10.0, 18.0, 26.0, 8.0, 22.0, 12.0, 25.0, 3.0, 19.0, 11.0, 24.0,
           15.0, 6.0, 20.0, 16.0, 48.0, 22.0, 13.0, 42.0, 17.0, 28.0, 11.0, 36.0, 20.0, 25.0, 14.0, 40.0, 3.0, 21.0,
           38.0, 16.0, 40.0, 67.5, 24.0]
sea_tr_obs = [14.9, 24.5]
sea_tr_mod = [14.9, 18.7]

# ---------------- panel table: title, data, counts, stars
panels = [
    ("Global", glob_lo, glob_hi, glob_spk_yr, glob_spk_hi, glob_mean, glob_obs, glob_tr_obs, glob_tr_mod, "10", "6", True, True),
    ("Alaskan Forests", ak_lo, ak_hi, ak_spk_yr, ak_spk_hi, ak_mean, ak_obs, ak_tr_obs, ak_tr_mod, "11", "5", True, True),
    ("Pacific Canadian Forests", pc_lo, pc_hi, pc_spk_yr, pc_spk_hi, pc_mean, pc_obs, pc_tr_obs, pc_tr_mod, "12", "4", True, True),
    ("Pacific US Forests", pus_lo, pus_hi, pus_spk_yr, pus_spk_hi, pus_mean, pus_obs, pus_tr_obs, pus_tr_mod, "37", "9", True, True),
    ("Southern Amazonia", sam_lo, sam_hi, sam_spk_yr, sam_spk_hi, sam_mean, sam_obs, sam_tr_obs, sam_tr_mod, "37", "8", True, True),
    ("Mediterranean", med_lo, med_hi, med_spk_yr, med_spk_hi, med_mean, med_obs, med_tr_obs, med_tr_mod, "29", "13", True, True),
    ("North African Savannahs", nas_lo, nas_hi, nas_spk_yr, nas_spk_hi, nas_mean, nas_obs, nas_tr_obs, nas_tr_mod, "11", "2", True, True),
    ("South African Savannahs", sas_lo, sas_hi, sas_spk_yr, sas_spk_hi, sas_mean, sas_obs, sas_tr_obs, sas_tr_mod, "20", "5", True, True),
    ("East Siberian Forests", es_lo, es_hi, es_spk_yr, es_spk_hi, es_mean, es_obs, es_tr_obs, es_tr_mod, "3", "1", False, False),
    ("Indonesian Forests", ind_lo, ind_hi, ind_spk_yr, ind_spk_hi, ind_mean, ind_obs, ind_tr_obs, ind_tr_mod, "4", "2", False, False),
    ("Southeast Australian Forests", sea_lo, sea_hi, sea_spk_yr, sea_spk_hi, sea_mean, sea_obs, sea_tr_obs, sea_tr_mod, "11", "4", False, True),
]

# layout: pixel box (left, top, right, bottom), ylim, ticks, tick labels, grid step, x labels
layout = [
    ((25.3, 28.3, 278.3, 232.3), (-2.9, 69.8), [0, 20, 40, 60], ['', '', '40', '60'], 10, False),
    ((312.3, 29.3, 565, 233.3), (-4.3, 89.6), [0, 25, 50, 75], None, 12.5, False),
    ((600.7, 29.3, 852.7, 232.3), (-4.5, 110), [0, 25, 50, 75, 100], None, 12.5, False),
    ((25, 286.7, 278.3, 492.3), (-4.2, 79.7), [0, 20, 40, 60], ['', '', '', ''], 10, False),
    ((312.3, 287.3, 565, 492.3), (-9.1, 177.6), [0, 50, 100, 150], None, 25, False),
    ((600, 286.7, 853, 492.3), (-7.5, 147), [0, 50, 100], None, 25, False),
    ((25, 544.3, 278.3, 752.3), (-4.3, 71.6), [0, 20, 40, 60], ['', '', '', ''], 10, False),
    ((313, 544.3, 565, 748.3), (-3.1, 79), [0, 20, 40, 60], None, 10, False),
    ((600.7, 544.3, 860, 749.3), (-3.6, 82), [0, 20, 40, 60, 80], None, 10, True),
    ((25, 802.3, 278.3, 1006.7), (-5.1, 119.6), [0, 30, 60, 90], ['0', '30', '60', ''], 15, True),
    ((312.7, 802.3, 566, 1007.3), (-4.7, 102.8), [0, 25, 50, 75, 100], None, 12.5, True),
]

W, H = 856, 1027
fig = plt.figure(figsize=(W / 100, H / 100), dpi=100)

gray = '#cccccc'
red_num = '#a3262e'
red_star = '#8f1b1b'

for (title, lo, hi, spk_yr, spk_hi, mean, obs, tr_obs, tr_mod, n_obs, n_mod, st_obs, st_mod), \
        (box, ylim, ticks, tlabels, gstep, xlab) in zip(panels, layout):
    l, t, r, b = box
    ax = fig.add_axes([l / W, 1 - b / H, (r - l) / W, (b - t) / H])
    x_right = 2100 if r < 856 else 1850 + 250 * (r - l) / 252.0
    ax.set_xlim(1850, x_right)
    ax.set_ylim(*ylim)

    # grid
    ax.set_yticks(ticks)
    ax.set_yticks(np.arange(0, ylim[1], gstep), minor=True)
    ax.grid(which='both', axis='y', color='#e8e8e8', lw=0.9, zorder=0)
    ax.set_axisbelow(True)

    ax.fill_between(band_years, lo, hi, color=gray, lw=0, zorder=1)
    bases = []
    for yr in spk_yr:
        i = min((yr - 1860) // 5, len(hi) - 2)
        bases.append(min(hi[i], hi[i + 1]) - 3)
    ax.vlines(spk_yr, bases, spk_hi, color=gray, lw=1.0, zorder=1)

    ax.plot(mean_years, mean, color='#333333', lw=0.9, zorder=2)
    ax.plot(obs_years, obs, color='#ff1010', lw=0.9, zorder=3)
    ax.plot(trend_years, tr_obs, color='#8b0a0a', lw=1.4, zorder=4)
    ax.plot(trend_years, tr_mod, color='black', lw=1.8, zorder=5)

    ax.set_title(title, fontsize=9.8, fontweight='bold', pad=6)

    ax.set_xticks([1850, 1900, 1950, 2000, 2050, 2100])
    if tlabels is not None:
        ax.set_yticklabels(tlabels)
    ax.tick_params(which='major', direction='out', length=4, width=0.8, labelsize=7.5,
                   labelcolor='#222222', pad=2)
    ax.tick_params(which='minor', length=0)
    ax.tick_params(axis='x', labelbottom=xlab)
    for sp in ax.spines.values():
        sp.set_linewidth(1.0)
    if r >= 856:
        ax.spines['right'].set_visible(False)

    # trend significance labels
    y_obs, y_mod = 0.91, 0.82
    if st_obs:
        ax.plot([0.525], [y_obs], marker='*', ms=9, color=red_star, mec=red_star,
                transform=ax.transAxes, clip_on=False, zorder=6)
        ax.text(0.555, y_obs, n_obs, color=red_num, fontsize=10, ha='left', va='center',
                transform=ax.transAxes)
    else:
        cx = 0.59 if st_mod else 0.572
        ax.text(cx, y_obs, n_obs, color=red_num, fontsize=10, ha='center', va='center',
                transform=ax.transAxes)
    if st_mod:
        ax.plot([0.525], [y_mod], marker='*', ms=9, color='black',
                transform=ax.transAxes, clip_on=False, zorder=6)
        ax.text(0.555, y_mod, n_mod, color='#111111', fontsize=10, ha='left', va='center',
                transform=ax.transAxes)
    else:
        ax.text(0.572, y_mod, n_mod, color='#111111', fontsize=10, ha='center', va='center',
                transform=ax.transAxes)

# cropped corners of the screenshot (Mediterranean panel, East Siberian x labels)
fig.add_artist(Rectangle((848.5 / W, 1 - 500 / H), 10 / W, 55 / H, color='white',
                         transform=fig.transFigure, zorder=10))
fig.add_artist(Rectangle((848.5 / W, 1 - 775 / H), 10 / W, 22 / H, color='white',
                         transform=fig.transFigure, zorder=10))

# slide text
fig.text(596 / W, 1 - 865 / H, "CMIP5 models", fontsize=24, family='Lato', va='baseline')
fig.text(596 / W, 1 - 905 / H, "running RCP 8.5", fontsize=24, family='Lato', va='baseline')
fig.text(592 / W, 1 - 988 / H, "Jones et al. 2022,", fontsize=18.3, family='Lato', va='baseline')
fig.text(592 / W, 1 - 1018 / H, "Geophysics Reviews", fontsize=18.3, family='Lato', va='baseline')

fig.savefig('out.png', dpi=100)
